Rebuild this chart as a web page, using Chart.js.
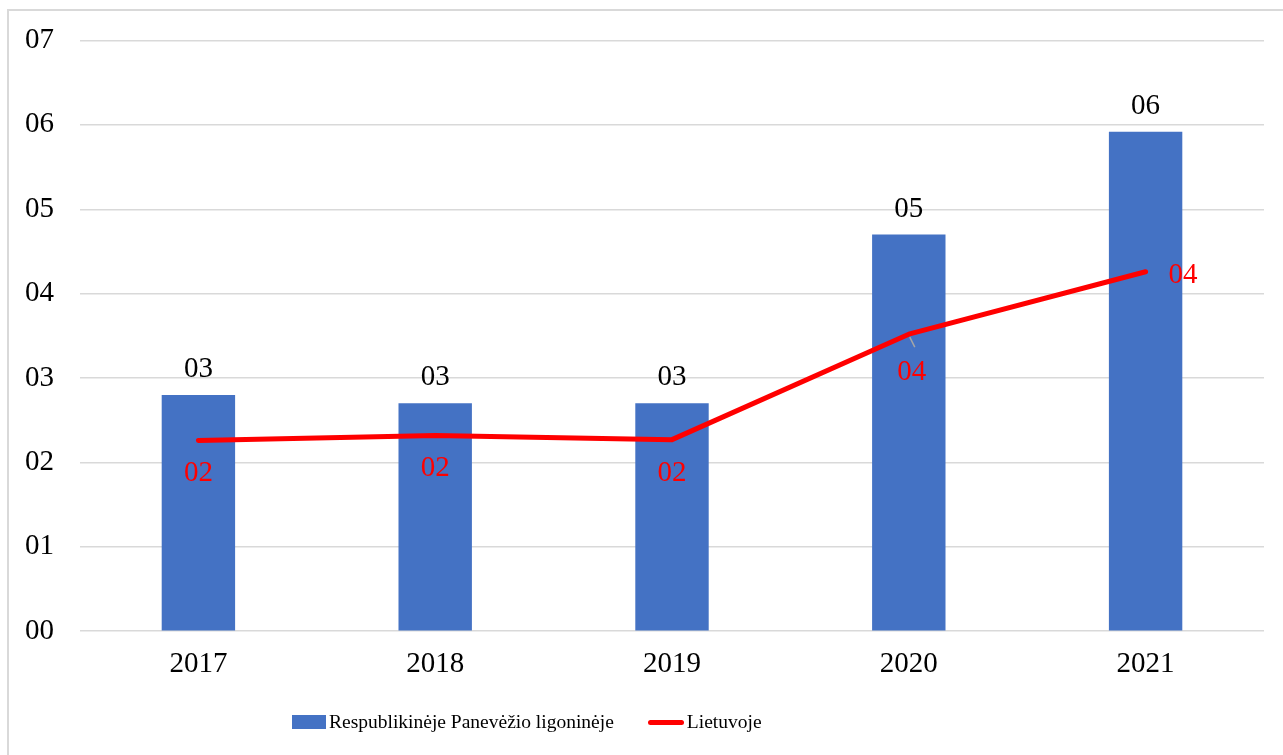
<!DOCTYPE html>
<html lang="lt">
<head>
<meta charset="utf-8"/>
<title>Respublikinėje Panevėžio ligoninėje / Lietuvoje</title>
<script src="https://cdn.jsdelivr.net/npm/chart.js"></script>
<style>
    html, body {
        margin: 0;
        padding: 0;
        background: #ffffff;
        overflow: hidden;
        font-family: 'Liberation Serif', 'Times New Roman', serif;
    }
    .frame {
        position: absolute;
        left: 7px;
        top: 9px;
        width: 1400px;
        height: 900px;
        border-left: 2px solid #d9d9d9;
        border-top: 2px solid #d9d9d9;
    }
    .chart-box {
        position: absolute;
        left: 0;
        top: 0;
        width: 1283px;
        height: 755px;
    }
    .legend {
        position: absolute;
        left: 292px;
        top: 711px;
        display: flex;
        align-items: center;
        font-size: 19.5px;
        color: #000000;
    }
    .legend-item {
        display: flex;
        align-items: center;
        margin-right: 34px;
    }
    .swatch-bar {
        width: 34px;
        height: 14px;
        margin-right: 3px;
    }
    .swatch-line {
        width: 36px;
        height: 5px;
        border-radius: 3px;
        margin-right: 3px;
    }
</style>
</head>
<body>
<div class="frame"></div>
<div class="chart-box">
    <canvas id="chart" width="1283" height="755"></canvas>
</div>
<div class="legend" id="legend"></div>
<script>
    // duomenys
    const years = ['2017', '2018', '2019', '2020', '2021'];
    const hospitalValues = [2.8, 2.7, 2.7, 4.7, 5.92];
    const lithuaniaValues = [2.26, 2.32, 2.27, 3.52, 4.26];
    const yTicks = [0, 1, 2, 3, 4, 5, 6, 7];

    // kur dėti linijos reikšmių etiketes
    const lineLabelPlace = ['below', 'below', 'below', 'leader', 'right'];

    const fmt = v => String(Math.round(v)).padStart(2, '0');
    const serif = '"Liberation Serif", "Times New Roman", serif';

    const valueLabels = {
        id: 'valueLabels',
        afterDatasetsDraw(chart) {
            const ctx = chart.ctx;
            ctx.save();
            ctx.font = '29px ' + serif;
            ctx.textBaseline = 'alphabetic';

            // stulpeliai (dataset 1) - virš
            chart.getDatasetMeta(1).data.forEach((bar, i) => {
                ctx.fillStyle = '#000000';
                ctx.textAlign = 'center';
                ctx.fillText(fmt(hospitalValues[i]), bar.x, bar.y - 18);
            });

            // linija (dataset 0) - raudonos etiketės
            chart.getDatasetMeta(0).data.forEach((pt, i) => {
                const place = lineLabelPlace[i];
                ctx.fillStyle = '#ff0000';
                if (place === 'right') {
                    ctx.textAlign = 'left';
                    ctx.fillText(fmt(lithuaniaValues[i]), pt.x + 23, pt.y + 11);
                } else if (place === 'leader') {
                    ctx.strokeStyle = '#a6a6a6';
                    ctx.lineWidth = 1.5;
                    ctx.beginPath();
                    ctx.moveTo(pt.x + 1, pt.y + 3);
                    ctx.lineTo(pt.x + 6, pt.y + 13);
                    ctx.stroke();
                    ctx.textAlign = 'center';
                    ctx.fillText(fmt(lithuaniaValues[i]), pt.x + 3, pt.y + 46);
                } else {
                    ctx.textAlign = 'center';
                    ctx.fillText(fmt(lithuaniaValues[i]), pt.x, pt.y + 41);
                }
            });
            ctx.restore();
        }
    };

    const chart = new Chart(document.getElementById('chart'), {
        data: {
            labels: years,
            datasets: [
                {
                    type: 'line',
                    label: 'Lietuvoje',
                    data: lithuaniaValues,
                    borderColor: '#ff0000',
                    backgroundColor: '#ff0000',
                    borderWidth: 5,
                    pointRadius: 0,
                    tension: 0,
                    borderCapStyle: 'round',
                    borderJoinStyle: 'round',
                    order: 1
                },
                {
                    type: 'bar',
                    label: 'Respublikinėje Panevėžio ligoninėje',
                    data: hospitalValues,
                    backgroundColor: '#4472c4',
                    borderWidth: 0,
                    barPercentage: 0.31,
                    categoryPercentage: 1.0,
                    order: 2
                }
            ]
        },
        options: {
            responsive: false,
            animation: false,
            layout: {
                padding: { top: 40, right: 19, bottom: 57, left: 0 }
            },
            plugins: {
                legend: { display: false },
                tooltip: { enabled: false }
            },
            scales: {
                x: {
                    grid: { display: false, drawTicks: false },
                    border: { display: false },
                    ticks: {
                        padding: 16,
                        color: '#000000',
                        font: { family: serif, size: 29 }
                    }
                },
                y: {
                    min: 0,
                    max: 7,
                    afterFit(scale) { scale.width = 80; },
                    afterBuildTicks(scale) { scale.ticks = yTicks.map(v => ({ value: v })); },
                    grid: { color: '#d9d9d9', lineWidth: 1.5, drawTicks: false },
                    border: { display: false },
                    ticks: {
                        padding: 26,
                        color: '#000000',
                        font: { family: serif, size: 29, lineHeight: 1 },
                        callback: v => fmt(v)
                    }
                }
            }
        },
        plugins: [valueLabels]
    });

    // HTML legenda: stulpeliai pirmi, paskui linija
    const legendEl = document.getElementById('legend');
    [chart.data.datasets[1], chart.data.datasets[0]].forEach(ds => {
        const item = document.createElement('div');
        item.className = 'legend-item';
        const sw = document.createElement('span');
        sw.className = ds.type === 'bar' ? 'swatch-bar' : 'swatch-line';
        sw.style.background = ds.type === 'bar' ? ds.backgroundColor : ds.borderColor;
        const txt = document.createElement('span');
        txt.textContent = ds.label;
        item.appendChild(sw);
        item.appendChild(txt);
        legendEl.appendChild(item);
    });
</script>
</body>
</html>
